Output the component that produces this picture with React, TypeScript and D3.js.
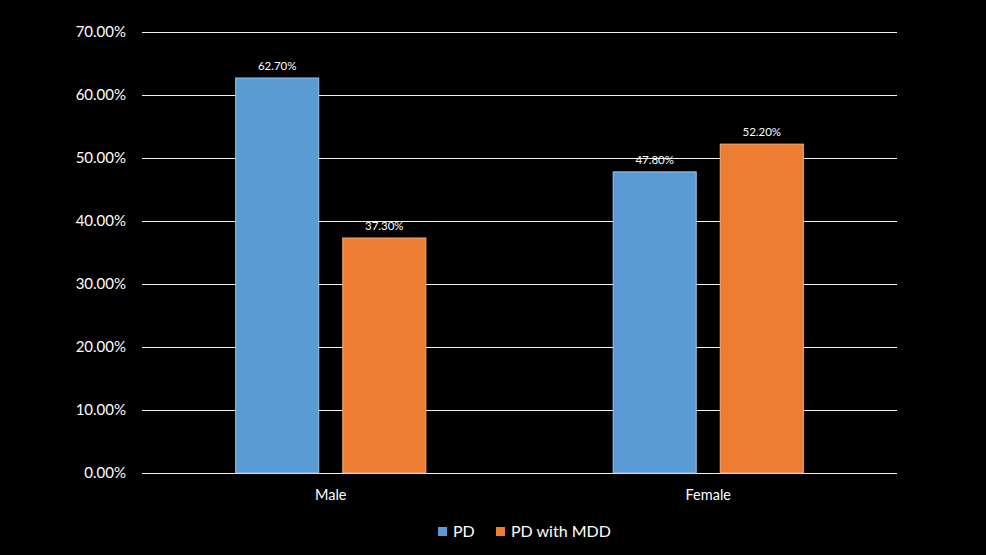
import React, { useEffect, useRef } from 'react';
import * as d3 from 'd3';

const categories = ['Male', 'Female'];
const seriesNames = ['PD', 'PD with MDD'];
const pdValues = [62.7, 47.8];
const mddValues = [37.3, 52.2];
const yTicks = [0, 10, 20, 30, 40, 50, 60, 70];

const colors = ['#5B9BD5', '#ED7D31'];
const strokes = ['#9DC3E6', '#F4B183'];

const W = 986;
const H = 555;
const FONT = 'Lato, "Open Sans", sans-serif';

const App: React.FC = () => {
  const svgRef = useRef<SVGSVGElement>(null);

  useEffect(() => {
    if (!svgRef.current) return;
    const svg = d3.select(svgRef.current);
    svg.selectAll('*').remove();

    const m = { left: 142, right: 89, top: 32, bottom: 82 };
    const innerW = W - m.left - m.right;
    const innerH = H - m.top - m.bottom;

    svg.append('rect').attr('width', W).attr('height', H).attr('fill', '#000');

    const g = svg.append('g').attr('transform', `translate(${m.left},${m.top})`);

    const x0 = d3.scaleBand<string>().domain(categories).range([0, innerW]);
    const x1 = d3.scaleBand<string>()
      .domain(seriesNames)
      .range([0, x0.bandwidth()])
      .paddingInner(0.215)
      .paddingOuter(0.87);
    const y = d3.scaleLinear().domain([0, 70]).range([innerH, 0]);

    // gridlines
    g.selectAll('line.grid')
      .data(yTicks)
      .enter()
      .append('line')
      .attr('x1', 0)
      .attr('x2', innerW)
      .attr('y1', d => y(d) + 0.5)
      .attr('y2', d => y(d) + 0.5)
      .attr('stroke', '#f2f2f2')
      .attr('stroke-width', 1);

    // y labels
    g.selectAll('text.ytick')
      .data(yTicks)
      .enter()
      .append('text')
      .attr('x', -16)
      .attr('y', d => y(d))
      .attr('dy', '0.35em')
      .attr('text-anchor', 'end')
      .attr('fill', '#fff')
      .attr('font-family', FONT)
      .attr('font-size', 15)
      .text(d => `${d.toFixed(2)}%`);

    const rows = categories.map((c, i) => ({
      cat: c,
      vals: [pdValues[i], mddValues[i]],
    }));

    const groups = g.selectAll('g.cat')
      .data(rows)
      .enter()
      .append('g')
      .attr('transform', d => `translate(${x0(d.cat)},0)`);

    groups.selectAll('rect')
      .data(d => d.vals.map((v, i) => ({ v, s: seriesNames[i], i })))
      .enter()
      .append('rect')
      .attr('x', d => (x1(d.s) || 0) + 0.5)
      .attr('y', d => y(d.v))
      .attr('width', x1.bandwidth() - 1)
      .attr('height', d => innerH - y(d.v))
      .attr('fill', d => colors[d.i])
      .attr('stroke', d => strokes[d.i])
      .attr('stroke-width', 1);

    groups.selectAll('text.val')
      .data(d => d.vals.map((v, i) => ({ v, s: seriesNames[i], i })))
      .enter()
      .append('text')
      .attr('x', d => (x1(d.s) || 0) + x1.bandwidth() / 2)
      .attr('y', d => y(d.v) - 8)
      .attr('text-anchor', 'middle')
      .attr('fill', '#fff')
      .attr('font-family', FONT)
      .attr('font-size', 11.5)
      .text(d => `${d.v.toFixed(2)}%`);

    // category labels
    g.selectAll('text.cat')
      .data(categories)
      .enter()
      .append('text')
      .attr('x', d => (x0(d) || 0) + x0.bandwidth() / 2)
      .attr('y', innerH + 27)
      .attr('text-anchor', 'middle')
      .attr('fill', '#fff')
      .attr('font-family', FONT)
      .attr('font-size', 14.5)
      .text(d => d);

    // legend
    const legendX = [438, 496];
    const legend = svg.selectAll('g.legend')
      .data(seriesNames)
      .enter()
      .append('g')
      .attr('transform', (d, i) => `translate(${legendX[i]},527)`);
    legend.append('rect')
      .attr('width', 9)
      .attr('height', 9)
      .attr('fill', (d, i) => colors[i]);
    legend.append('text')
      .attr('x', 15)
      .attr('y', 4.5)
      .attr('dy', '0.36em')
      .attr('fill', '#fff')
      .attr('font-family', FONT)
      .attr('font-size', 16)
      .text(d => d);
  }, []);

  return (
    <svg
      ref={svgRef}
      width={W}
      height={H}
      style={{ display: 'block', position: 'absolute', left: 0, top: 0 }}
    />
  );
};

export default App;
